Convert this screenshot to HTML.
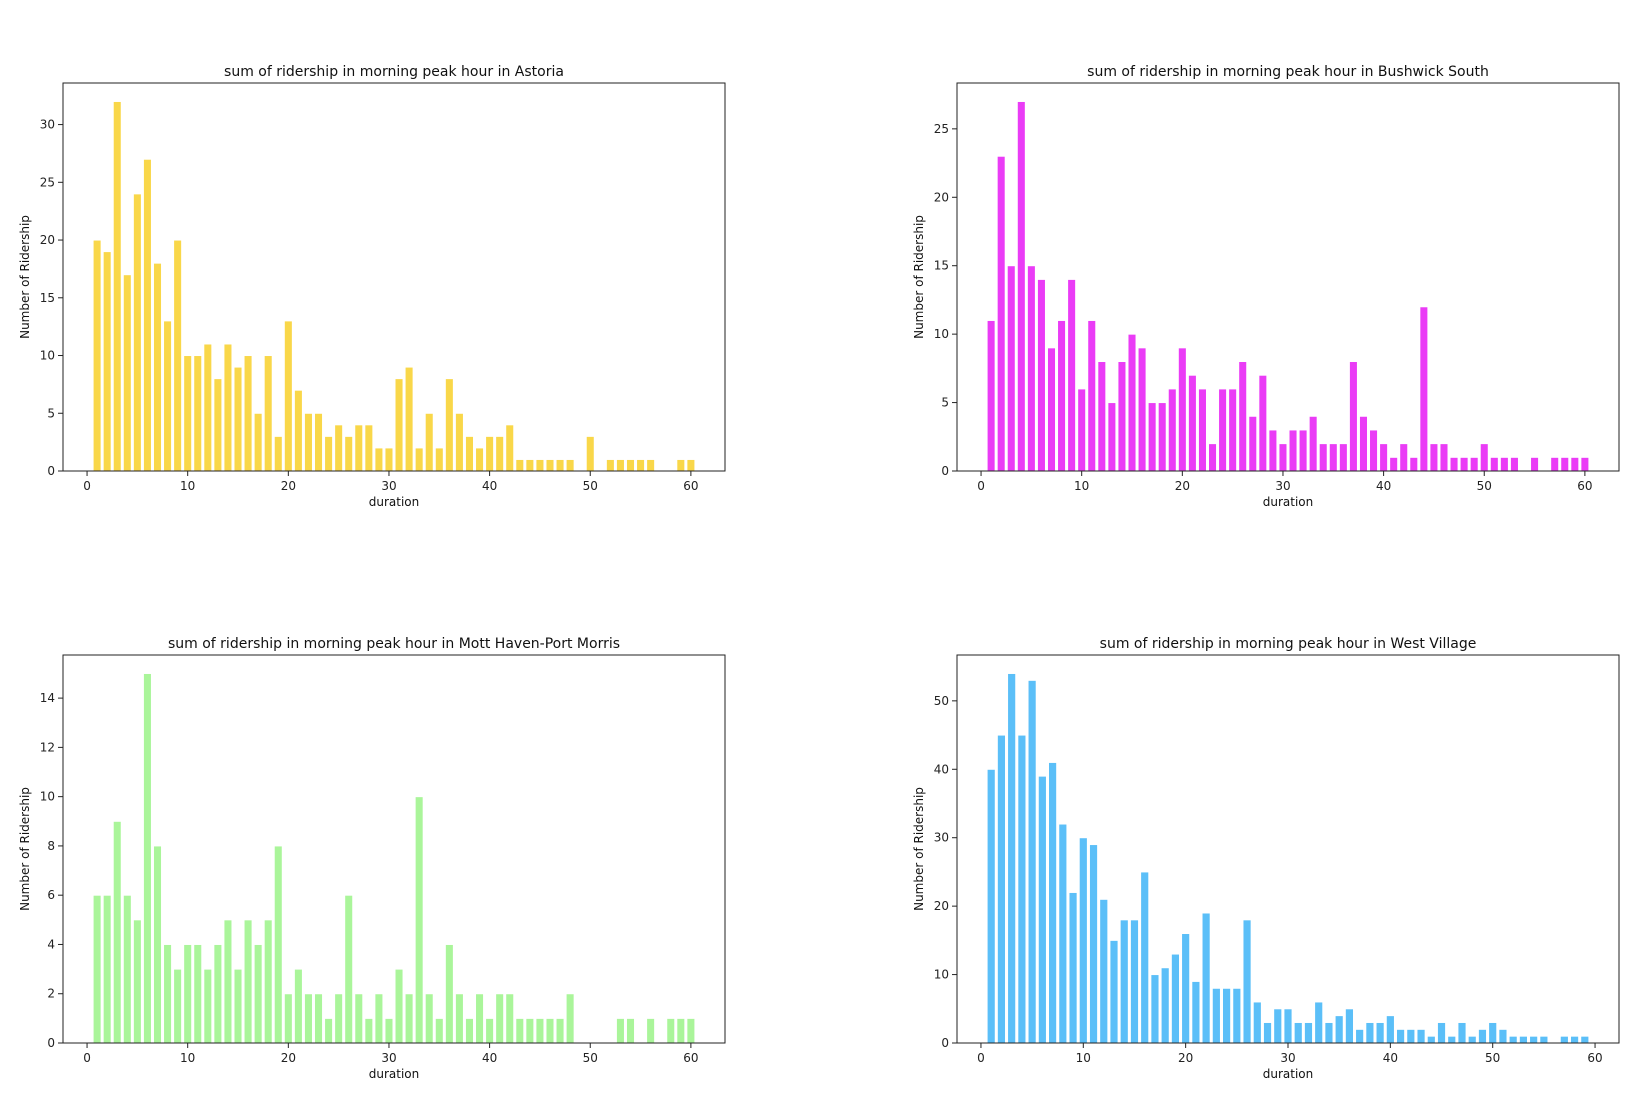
<!DOCTYPE html>
<html><head><meta charset="utf-8"><style>
html,body{margin:0;padding:0;background:#fff;}
svg{display:block;font-family:"DejaVu Sans","Liberation Sans",sans-serif;}
</style></head><body>
<svg id="s" width="1640" height="1116" xmlns="http://www.w3.org/2000/svg"></svg>
<script>
const charts=[
{t:"sum of ridership in morning peak hour in Astoria",c:"#f9d749",x0:63,y0:83,
 d:[20,19,32,17,24,27,18,13,20,10,10,11,8,11,9,10,5,10,3,13,7,5,5,3,4,3,4,4,2,2,8,9,2,5,2,8,5,3,2,3,3,4,1,1,1,1,1,1,0,3,0,1,1,1,1,1,0,0,1,1],yt:[0,5,10,15,20,25,30]},
{t:"sum of ridership in morning peak hour in Bushwick South",c:"#ea3cf6",x0:957,y0:83,
 d:[11,23,15,27,15,14,9,11,14,6,11,8,5,8,10,9,5,5,6,9,7,6,2,6,6,8,4,7,3,2,3,3,4,2,2,2,8,4,3,2,1,2,1,12,2,2,1,1,1,2,1,1,1,0,1,0,1,1,1,1],yt:[0,5,10,15,20,25]},
{t:"sum of ridership in morning peak hour in Mott Haven-Port Morris",c:"#aaf59a",x0:63,y0:655,
 d:[6,6,9,6,5,15,8,4,3,4,4,3,4,5,3,5,4,5,8,2,3,2,2,1,2,6,2,1,2,1,3,2,10,2,1,4,2,1,2,1,2,2,1,1,1,1,1,2,0,0,0,0,1,1,0,1,0,1,1,1],yt:[0,2,4,6,8,10,12,14]},
{t:"sum of ridership in morning peak hour in West Village",c:"#5bbff8",x0:957,y0:655,
 d:[40,45,54,45,53,39,41,32,22,30,29,21,15,18,18,25,10,11,13,16,9,19,8,8,8,18,6,3,5,5,3,3,6,3,4,5,2,3,3,4,2,2,2,1,3,1,3,1,2,3,2,1,1,1,1,0,1,1,1],yt:[0,10,20,30,40,50]}
];
const W=662,H=388;let h="";
for(const ch of charts){
 const n=ch.d.length;const lo=0.6-0.05*(n-0.2),hi=n+0.4+0.05*(n-0.2);
 const xs=v=>ch.x0+(v-lo)/(hi-lo)*W;
 const mx=Math.max(...ch.d)*1.05;const ys=v=>ch.y0+H-v/mx*H;
 ch.d.forEach((v,i)=>{if(v>0){const a=xs(i+1-0.4),b=xs(i+1+0.4);h+=`<rect x="${a}" y="${ys(v)}" width="${b-a}" height="${ch.y0+H-ys(v)}" fill="${ch.c}" stroke="#fff" stroke-width="1"/>`;}});
 h+=`<rect x="${ch.x0}" y="${ch.y0}" width="${W}" height="${H}" fill="none" stroke="#222" stroke-width="1"/>`;
 for(let t=0;t<=60;t+=10){const x=xs(t);h+=`<line x1="${x}" x2="${x}" y1="${ch.y0+H}" y2="${ch.y0+H+5}" stroke="#222"/><text x="${x}" y="${ch.y0+H+19}" font-size="12" text-anchor="middle" fill="#222">${t}</text>`;}
 for(const t of ch.yt){const y=ys(t);h+=`<line x1="${ch.x0-5}" x2="${ch.x0}" y1="${y}" y2="${y}" stroke="#222"/><text x="${ch.x0-8}" y="${y+4}" font-size="12" text-anchor="end" fill="#222">${t}</text>`;}
 h+=`<text x="${ch.x0+W/2}" y="${ch.y0-7}" font-size="14" text-anchor="middle" fill="#111">${ch.t}</text>`;
 h+=`<text x="${ch.x0+W/2}" y="${ch.y0+H+35}" font-size="12" text-anchor="middle" fill="#111">duration</text>`;
 const lx=ch.x0-34,ly=ch.y0+H/2;
 h+=`<text transform="translate(${lx},${ly}) rotate(-90)" font-size="12" text-anchor="middle" fill="#111">Number of Ridership</text>`;
}
document.getElementById("s").innerHTML=h;
</script>
</body></html>
